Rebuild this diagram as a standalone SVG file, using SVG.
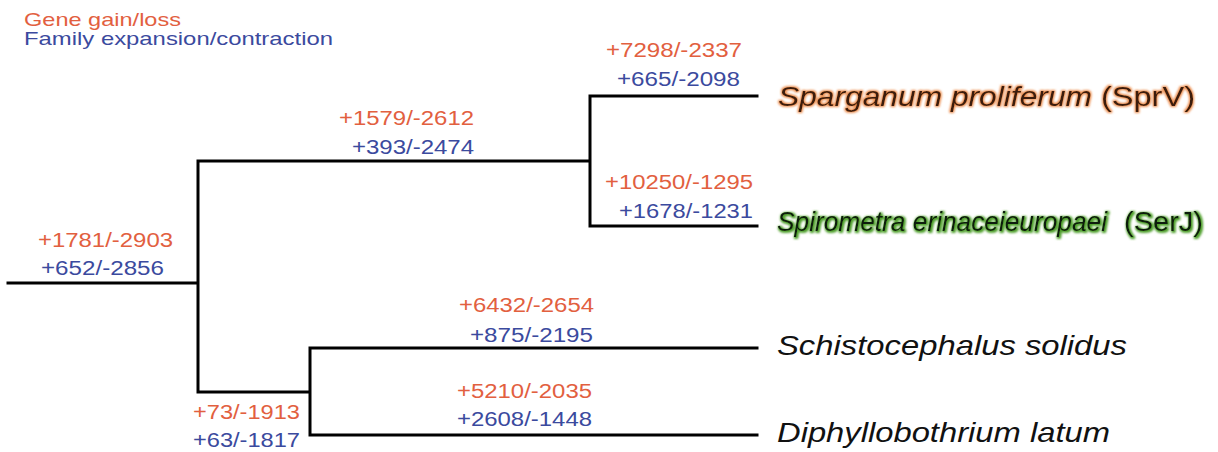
<svg xmlns="http://www.w3.org/2000/svg" width="1218" height="452" viewBox="0 0 1218 452">
<defs>
<style>
.br{stroke:#000;stroke-width:3;fill:none;stroke-linecap:square}
.n{font-family:"Liberation Sans",Arial,sans-serif;font-size:20px}
.r{fill:#e2603f}
.b{fill:#3b4a9e}
.sp{font-family:"Liberation Sans",Arial,sans-serif;font-size:28px;font-style:italic;fill:#111}
.up{font-style:normal}
.leg{font-family:"Liberation Sans",Arial,sans-serif;font-size:19px}
</style>
<filter id="glowO" x="-5%" y="-40%" width="110%" height="180%">
<feMorphology in="SourceAlpha" operator="dilate" radius="1" result="d"/>
<feGaussianBlur in="d" stdDeviation="0.9" result="bl"/>
<feFlood flood-color="#e8782e" flood-opacity="0.85"/>
<feComposite in2="bl" operator="in" result="g"/>
<feMerge><feMergeNode in="g"/><feMergeNode in="SourceGraphic"/></feMerge>
</filter>
<filter id="glowG" x="-5%" y="-40%" width="110%" height="180%">
<feMorphology in="SourceAlpha" operator="dilate" radius="1.2" result="d"/>
<feOffset in="d" dx="1" dy="1" result="o"/>
<feGaussianBlur in="o" stdDeviation="1" result="bl"/>
<feFlood flood-color="#4fa02c"/>
<feComposite in2="bl" operator="in" result="g"/>
<feMerge><feMergeNode in="g"/><feMergeNode in="SourceGraphic"/></feMerge>
</filter>
</defs>
<rect width="1218" height="452" fill="#fff"/>
<g id="legend">
<text class="leg r" x="24" y="26" textLength="157" lengthAdjust="spacingAndGlyphs">Gene gain/loss</text>
<text class="leg b" x="24" y="45" textLength="309" lengthAdjust="spacingAndGlyphs">Family expansion/contraction</text>
</g>
<g id="connectors">
<path class="br" d="M8 283H198M198 161V392M198 161H590M590 96V226M590 96H757M590 226H757M198 392H310M310 348V435M310 348H757M310 435H757"/>
</g>
<g id="labels">
<text class="n r" x="38" y="247" textLength="135" lengthAdjust="spacingAndGlyphs">+1781/-2903</text>
<text class="n b" x="41" y="275" textLength="123" lengthAdjust="spacingAndGlyphs">+652/-2856</text>
<text class="n r" x="339" y="125" textLength="135" lengthAdjust="spacingAndGlyphs">+1579/-2612</text>
<text class="n b" x="352" y="154" textLength="122" lengthAdjust="spacingAndGlyphs">+393/-2474</text>
<text class="n r" x="606" y="57" textLength="136" lengthAdjust="spacingAndGlyphs">+7298/-2337</text>
<text class="n b" x="617" y="86" textLength="123" lengthAdjust="spacingAndGlyphs">+665/-2098</text>
<text class="n r" x="605" y="189" textLength="148" lengthAdjust="spacingAndGlyphs">+10250/-1295</text>
<text class="n b" x="619" y="218" textLength="134" lengthAdjust="spacingAndGlyphs">+1678/-1231</text>
<text class="n r" x="459" y="312" textLength="135" lengthAdjust="spacingAndGlyphs">+6432/-2654</text>
<text class="n b" x="470" y="342" textLength="123" lengthAdjust="spacingAndGlyphs">+875/-2195</text>
<text class="n r" x="457" y="398" textLength="135" lengthAdjust="spacingAndGlyphs">+5210/-2035</text>
<text class="n b" x="457" y="426" textLength="135" lengthAdjust="spacingAndGlyphs">+2608/-1448</text>
<text class="n r" x="193" y="419" textLength="107" lengthAdjust="spacingAndGlyphs">+73/-1913</text>
<text class="n b" x="193" y="447" textLength="107" lengthAdjust="spacingAndGlyphs">+63/-1817</text>
</g>
<g id="node-sprv" filter="url(#glowO)">
<text class="sp" x="778" y="106" textLength="314" lengthAdjust="spacingAndGlyphs" style="fill:#3a1e0e">Sparganum proliferum</text>
<text class="sp up" x="1101" y="106" textLength="94" lengthAdjust="spacingAndGlyphs" style="fill:#3a1e0e">(SprV)</text>
</g>
<g id="node-serj" filter="url(#glowG)">
<text class="sp" x="777" y="231" textLength="330" lengthAdjust="spacingAndGlyphs" style="fill:#0e1a08">Spirometra erinaceieuropaei</text>
<text class="sp up" x="1124" y="231" textLength="79" lengthAdjust="spacingAndGlyphs" style="fill:#0e1a08">(SerJ)</text>
</g>
<g id="node-schisto">
<text class="sp" x="777" y="355" textLength="350" lengthAdjust="spacingAndGlyphs">Schistocephalus solidus</text>
</g>
<g id="node-diphyllo">
<text class="sp" x="777" y="442" textLength="333" lengthAdjust="spacingAndGlyphs">Diphyllobothrium latum</text>
</g>
</svg>
